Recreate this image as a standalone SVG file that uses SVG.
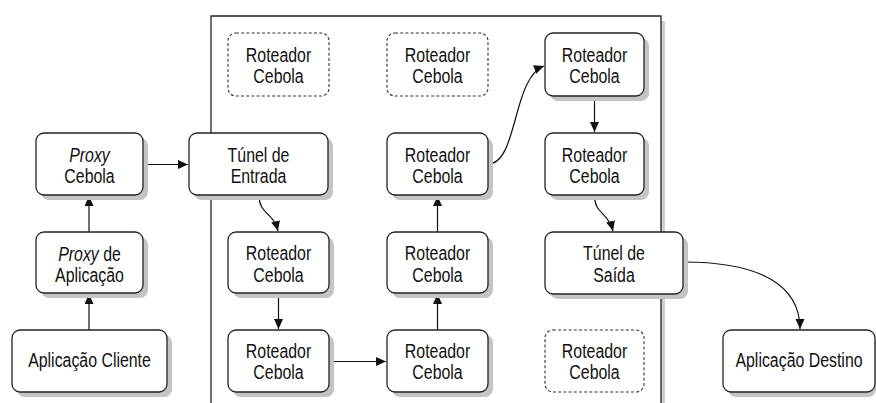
<svg xmlns="http://www.w3.org/2000/svg" width="876" height="403" viewBox="0 0 876 403">
<defs>
<marker id="arr" markerUnits="userSpaceOnUse" markerWidth="11" markerHeight="10" refX="10" refY="4.5" orient="auto">
<path d="M0,0 L10,4.5 L0,9 z" fill="#111"/>
</marker>
<style>
.box{fill:#fff;stroke:#222;stroke-width:1.3}
.dash{fill:#fff;stroke:#333;stroke-width:1.1;stroke-dasharray:3,2.2}
.sh{fill:#c4c4c4}
.t{font-family:"Liberation Sans",Arial,sans-serif;font-size:20px;fill:#111;text-anchor:middle}
.i{font-style:italic}
.c{fill:none;stroke:#111;stroke-width:1.2;marker-end:url(#arr)}
</style>
</defs>
<rect width="876" height="403" fill="#fff"/>
<g id="network">
<rect x="661" y="21" width="4" height="382" fill="#cfcfcf"/>
<path d="M211,403 V16 H661 V403" fill="none" stroke="#222" stroke-width="1.3"/>
</g>
<g id="connectors">
<path class="c" d="M89,330 V294"/>
<path class="c" d="M89,232 V196"/>
<path class="c" d="M143,164.5 H188"/>
<path class="c" d="M259,195 C259,215 273,211 278,231"/>
<path class="c" d="M278.5,293 V329"/>
<path class="c" d="M329,361.5 H386"/>
<path class="c" d="M437.5,330 V294"/>
<path class="c" d="M437.5,232 V196"/>
<path class="c" d="M488,164 C518,164 512,78 544,66"/>
<path class="c" d="M594.5,96 V132"/>
<path class="c" d="M594.5,195 C594.5,215 608,211 613,231"/>
<path class="c" d="M683,262 C760,262 800,285 800,329"/>
</g>
<g id="proxy-cebola">
<rect class="sh" x="41" y="138" width="107" height="62" rx="8"/>
<rect class="box" x="36" y="133" width="107" height="62" rx="8"/>
<text class="t i" transform="translate(89.5 161.5) scale(0.795 1)">Proxy</text>
<text class="t" transform="translate(89.5 182.5) scale(0.795 1)">Cebola</text>
</g>
<g id="proxy-aplicacao">
<rect class="sh" x="41" y="237" width="107" height="61" rx="8"/>
<rect class="box" x="36" y="232" width="107" height="61" rx="8"/>
<text class="t" transform="translate(89.5 260.5) scale(0.795 1)"><tspan class="i">Proxy</tspan> de</text>
<text class="t" transform="translate(89.5 281.5) scale(0.795 1)">Aplicação</text>
</g>
<g id="aplicacao-cliente">
<rect class="sh" x="17" y="335" width="155" height="62" rx="8"/>
<rect class="box" x="12" y="330" width="155" height="62" rx="8"/>
<text class="t" transform="translate(89.5 367) scale(0.795 1)">Aplicação Cliente</text>
</g>
<g id="tunel-entrada">
<rect class="sh" x="194" y="138" width="139" height="62" rx="8"/>
<rect class="box" x="189" y="133" width="139" height="62" rx="8"/>
<text class="t" transform="translate(258.5 161.5) scale(0.795 1)">Túnel de</text>
<text class="t" transform="translate(258.5 182.5) scale(0.795 1)">Entrada</text>
</g>
<g id="roteador-d1">
<rect class="dash" x="228" y="33" width="101" height="63" rx="8"/>
<text class="t" transform="translate(278.5 61.5) scale(0.795 1)">Roteador</text>
<text class="t" transform="translate(278.5 83) scale(0.795 1)">Cebola</text>
</g>
<g id="roteador-l3">
<rect class="sh" x="233" y="237" width="101" height="61" rx="8"/>
<rect class="box" x="228" y="232" width="101" height="61" rx="8"/>
<text class="t" transform="translate(278.5 260) scale(0.795 1)">Roteador</text>
<text class="t" transform="translate(278.5 281.5) scale(0.795 1)">Cebola</text>
</g>
<g id="roteador-l4">
<rect class="sh" x="233" y="335" width="101" height="62" rx="8"/>
<rect class="box" x="228" y="330" width="101" height="62" rx="8"/>
<text class="t" transform="translate(278.5 357.5) scale(0.795 1)">Roteador</text>
<text class="t" transform="translate(278.5 379) scale(0.795 1)">Cebola</text>
</g>
<g id="roteador-d2">
<rect class="dash" x="387" y="33" width="101" height="63" rx="8"/>
<text class="t" transform="translate(437.5 61.5) scale(0.795 1)">Roteador</text>
<text class="t" transform="translate(437.5 83) scale(0.795 1)">Cebola</text>
</g>
<g id="roteador-m2">
<rect class="sh" x="392" y="138" width="101" height="62" rx="8"/>
<rect class="box" x="387" y="133" width="101" height="62" rx="8"/>
<text class="t" transform="translate(437.5 161.5) scale(0.795 1)">Roteador</text>
<text class="t" transform="translate(437.5 182.5) scale(0.795 1)">Cebola</text>
</g>
<g id="roteador-m3">
<rect class="sh" x="392" y="237" width="101" height="61" rx="8"/>
<rect class="box" x="387" y="232" width="101" height="61" rx="8"/>
<text class="t" transform="translate(437.5 260) scale(0.795 1)">Roteador</text>
<text class="t" transform="translate(437.5 281.5) scale(0.795 1)">Cebola</text>
</g>
<g id="roteador-m4">
<rect class="sh" x="392" y="335" width="101" height="62" rx="8"/>
<rect class="box" x="387" y="330" width="101" height="62" rx="8"/>
<text class="t" transform="translate(437.5 357.5) scale(0.795 1)">Roteador</text>
<text class="t" transform="translate(437.5 379) scale(0.795 1)">Cebola</text>
</g>
<g id="roteador-r1">
<rect class="sh" x="550" y="38" width="99" height="63" rx="8"/>
<rect class="box" x="545" y="33" width="99" height="63" rx="8"/>
<text class="t" transform="translate(594.5 61.5) scale(0.795 1)">Roteador</text>
<text class="t" transform="translate(594.5 83) scale(0.795 1)">Cebola</text>
</g>
<g id="roteador-r2">
<rect class="sh" x="550" y="138" width="99" height="62" rx="8"/>
<rect class="box" x="545" y="133" width="99" height="62" rx="8"/>
<text class="t" transform="translate(594.5 161.5) scale(0.795 1)">Roteador</text>
<text class="t" transform="translate(594.5 182.5) scale(0.795 1)">Cebola</text>
</g>
<g id="tunel-saida">
<rect class="sh" x="550" y="237" width="138" height="62" rx="8"/>
<rect class="box" x="545" y="232" width="138" height="62" rx="8"/>
<text class="t" transform="translate(614 260) scale(0.795 1)">Túnel de</text>
<text class="t" transform="translate(614 281.5) scale(0.795 1)">Saída</text>
</g>
<g id="roteador-d3">
<rect class="dash" x="545" y="330" width="99" height="62" rx="8"/>
<text class="t" transform="translate(594.5 357.5) scale(0.795 1)">Roteador</text>
<text class="t" transform="translate(594.5 379) scale(0.795 1)">Cebola</text>
</g>
<g id="aplicacao-destino">
<rect class="sh" x="728" y="335" width="148" height="62" rx="8"/>
<rect class="box" x="723" y="330" width="152" height="62" rx="8"/>
<text class="t" transform="translate(799 367) scale(0.795 1)">Aplicação Destino</text>
</g>
</svg>
